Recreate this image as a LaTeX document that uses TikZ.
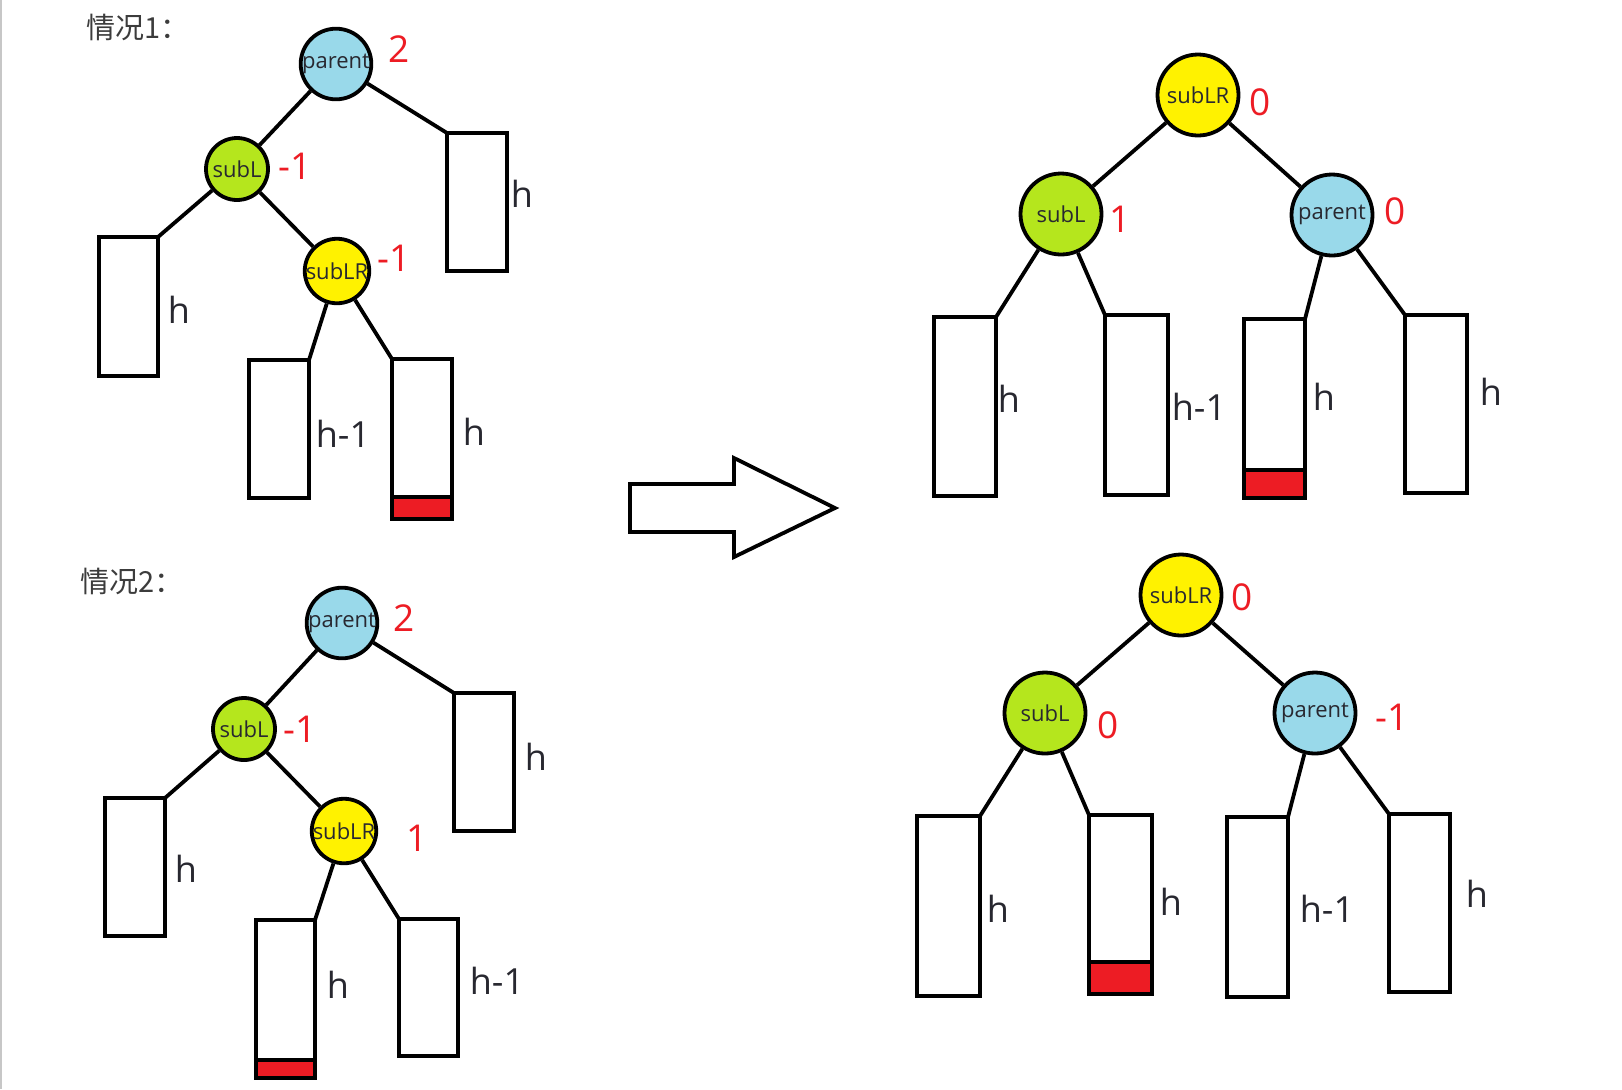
\documentclass[tikz,border=0pt]{standalone}
\usepackage{fontspec}
\setmainfont{Open Sans}
\newfontfamily\cjk{Noto Sans CJK SC}
\definecolor{pblue}{RGB}{153,217,234}
\definecolor{pgreen}{RGB}{181,230,29}
\definecolor{pyellow}{RGB}{255,242,0}
\definecolor{pred}{RGB}{237,28,36}
\definecolor{ink}{RGB}{40,40,48}
\definecolor{titlegray}{RGB}{60,60,60}
\newcommand\mkbox[6][box]{\node[#1, minimum width={(#5-#3-4)*0.5pt}, minimum height={(#6-#4-4)*0.5pt}] (#2) at ({(#3+#5)/2},{(#4+#6)/2}) {};}
\begin{document}
\begin{tikzpicture}[x=0.5pt,y=-0.5pt,
  treenode/.style={circle, draw=black, line width=1.9pt, inner sep=0pt, font=\fontsize{11}{13}\selectfont, text=ink},
  smallnode/.style={treenode, minimum size=31pt},
  bignode/.style={treenode, minimum size=40.5pt},
  bf/.style={fill=pblue}, gf/.style={fill=pgreen}, yf/.style={fill=pyellow},
  num/.style={text=pred, font=\fontsize{18.5}{20}\selectfont, inner sep=0pt},
  hlab/.style={text=ink, font=\fontsize{18}{20}\selectfont, inner sep=0pt},
  title/.style={anchor=west, text=titlegray, font=\cjk\fontsize{14.5}{16}\selectfont, inner sep=0pt},
  edge/.style={line width=1.9pt},
  box/.style={draw=black, line width=2.2pt, fill=white, rectangle, inner sep=0pt, outer sep=0pt},
  redbar/.style={draw=black, line width=2.2pt, fill=pred, rectangle, inner sep=0pt, outer sep=0pt},
  bigarrow/.style={draw=black, line width=1.9pt, line join=miter, fill=white}
]
\fill[white] (0,0) rectangle (1622,1089);
\useasboundingbox (0,0) rectangle (1622,1089);
\draw[black!22, line width=1pt] (1,0) -- (1,1089);

% ---------------- case 1 ----------------
\node[title] (t1) at (86,27) {情况1：};
\node[smallnode, bf] (P1) at (336,64) {parent};
\node[smallnode, gf] (L1) at (237,169) {subL};
\node[smallnode, yf] (R1) at (337,271) {subLR};
\node[num] (n11) at (399,49) {2};
\node[num] (n12) at (295,166) {-1};
\node[num] (n13) at (394,258) {-1};
\mkbox{a1}{97}{235}{160}{378}
\mkbox{a2}{445}{131}{509}{273}
\mkbox{a3}{247}{358}{311}{500}
\mkbox{a4}{390}{357}{454}{521}
\mkbox[redbar]{a4r}{390}{495}{454}{521}
\node[hlab] (h11) at (179,310) {h};
\node[hlab] (h12) at (522,194) {h};
\node[hlab] (h13) at (343,434) {h-1};
\node[hlab] (h14) at (474,432) {h};
\draw[edge] (P1) -- (L1);
\draw[edge] (P1) -- (a2.north west);
\draw[edge] (L1) -- (a1.north east);
\draw[edge] (L1) -- (R1);
\draw[edge] (R1) -- (a3.north east);
\draw[edge] (R1) -- (a4.north west);

% ---------------- case 2 ----------------
\node[title] (t2) at (80,581) {情况2：};
\node[smallnode, bf] (P2) at (342,623) {parent};
\node[smallnode, gf] (L2) at (244,729) {subL};
\node[smallnode, yf] (R2) at (344,831) {subLR};
\node[num] (n21) at (404,618) {2};
\node[num] (n22) at (300,729) {-1};
\node[num] (n23) at (417,838) {1};
\mkbox{b1}{103}{796}{167}{938}
\mkbox{b2}{452}{691}{516}{833}
\mkbox{b3}{254}{918}{317}{1080}
\mkbox[redbar]{b3r}{254}{1058}{317}{1080}
\mkbox{b4}{397}{917}{460}{1058}
\node[hlab] (h21) at (186,869) {h};
\node[hlab] (h22) at (536,757) {h};
\node[hlab] (h23) at (338,985) {h};
\node[hlab] (h24) at (497,981) {h-1};
\draw[edge] (P2) -- (L2);
\draw[edge] (P2) -- (b2.north west);
\draw[edge] (L2) -- (b1.north east);
\draw[edge] (L2) -- (R2);
\draw[edge] (R2) -- (b3.north east);
\draw[edge] (R2) -- (b4.north west);

% ---------------- big arrow ----------------
\draw[bigarrow] (630,484) -- (734,484) -- (734,458) -- (835,508) -- (734,557) -- (734,532) -- (630,532) -- cycle;

% ---------------- result 1 ----------------
\node[bignode, yf] (S3) at (1198,95) {subLR};
\node[bignode, gf] (L3) at (1061,214) {subL};
\node[bignode, bf] (P3) at (1332,215) {parent};
\node[num] (n31) at (1260,102) {0};
\node[num] (n32) at (1120,219) {1};
\node[num] (n33) at (1395,211) {0};
\mkbox{c1}{932}{315}{998}{498}
\mkbox{c2}{1103}{313}{1170}{497}
\mkbox{c3}{1242}{317}{1307}{500}
\mkbox[redbar]{c3r}{1242}{468}{1307}{500}
\mkbox{c4}{1403}{313}{1469}{495}
\node[hlab] (h31) at (1009,399) {h};
\node[hlab] (h32) at (1199,407) {h-1};
\node[hlab] (h33) at (1324,397) {h};
\node[hlab] (h34) at (1491,392) {h};
\draw[edge] (S3) -- (L3);
\draw[edge] (S3) -- (P3);
\draw[edge] (L3) -- (c1.north east);
\draw[edge] (L3) -- (c2.north west);
\draw[edge] (P3) -- (c3.north east);
\draw[edge] (P3) -- (c4.north west);

% ---------------- result 2 ----------------
\node[bignode, yf] (S4) at (1181,595) {subLR};
\node[bignode, gf] (L4) at (1045,713) {subL};
\node[bignode, bf] (P4) at (1315,713) {parent};
\node[num] (n41) at (1242,597) {0};
\node[num] (n42) at (1108,725) {0};
\node[num] (n43) at (1392,717) {-1};
\mkbox{d1}{915}{814}{982}{998}
\mkbox{d2}{1087}{813}{1154}{996}
\mkbox[redbar]{d2r}{1087}{960}{1154}{996}
\mkbox{d3}{1225}{815}{1290}{999}
\mkbox{d4}{1387}{812}{1452}{994}
\node[hlab] (h41) at (998,909) {h};
\node[hlab] (h42) at (1171,902) {h};
\node[hlab] (h43) at (1327,909) {h-1};
\node[hlab] (h44) at (1477,894) {h};
\draw[edge] (S4) -- (L4);
\draw[edge] (S4) -- (P4);
\draw[edge] (L4) -- (d1.north east);
\draw[edge] (L4) -- (d2.north west);
\draw[edge] (P4) -- (d3.north east);
\draw[edge] (P4) -- (d4.north west);
\end{tikzpicture}
\end{document}
